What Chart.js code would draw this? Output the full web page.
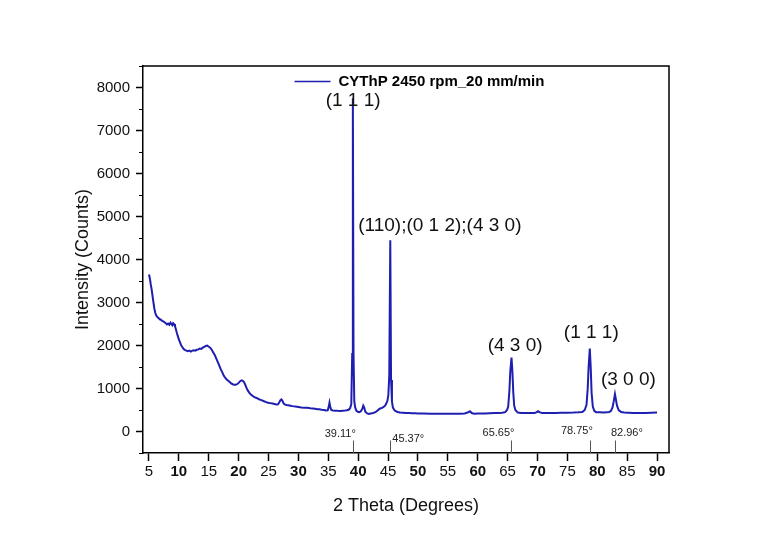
<!DOCTYPE html>
<html>
<head>
<meta charset="utf-8">
<script src="https://cdn.jsdelivr.net/npm/chart.js@4.4.0/dist/chart.umd.min.js"></script>
<style>
  html, body { margin: 0; padding: 0; background: #fff; }
  #wrap { width: 759px; height: 540px; }
</style>
</head>
<body>
<div id="wrap"><canvas id="xrd" width="759" height="540"></canvas></div>
<script>
// 2 theta (degrees) and counts
const twoTheta = [
  5.0, 5.15, 5.3, 5.45, 5.6, 5.75, 5.9, 6.05, 6.2, 6.4,
  6.6, 6.8, 7.0, 7.2, 7.4, 7.6, 7.8, 8.0, 8.2, 8.4,
  8.6, 8.75, 8.9, 9.05, 9.2, 9.35, 9.5, 9.65, 9.8, 10.0,
  10.2, 10.4, 10.6, 10.8, 11.0, 11.25, 11.5, 11.75, 12.0, 12.25,
  12.5, 12.75, 13.0, 13.25, 13.5, 13.75, 14.0, 14.25, 14.5, 14.75,
  15.0, 15.25, 15.5, 15.75, 16.0, 16.25, 16.5, 16.75, 17.0, 17.25,
  17.5, 17.75, 18.0, 18.25, 18.5, 18.75, 19.0, 19.25, 19.5, 19.75,
  20.0, 20.25, 20.5, 20.7, 20.9, 21.1, 21.3, 21.55, 21.8, 22.05,
  22.3, 22.65, 23.0, 23.4, 23.8, 24.15, 24.5, 24.9, 25.3, 25.65,
  26.0, 26.3, 26.6, 26.85, 27.0, 27.15, 27.3, 27.5, 27.7, 28.0,
  28.3, 28.65, 29.0, 29.5, 30.0, 30.5, 31.0, 31.5, 32.0, 32.4,
  32.8, 33.15, 33.5, 33.9, 34.3, 34.6, 34.9, 35.05, 35.2, 35.35,
  35.5, 35.8, 36.2, 36.6, 37.0, 37.4, 37.8, 38.1, 38.4, 38.65,
  38.85, 39.0, 39.11, 39.22, 39.35, 39.5, 39.7, 39.95, 40.2, 40.45,
  40.7, 40.85, 41.0, 41.2, 41.5, 41.8, 42.1, 42.5, 42.8, 43.0,
  43.25, 43.5, 43.75, 44.0, 44.25, 44.5, 44.7, 44.9, 45.05, 45.2,
  45.37, 45.5, 45.65, 45.8, 46.0, 46.2, 46.6, 47.0, 47.5, 48.0,
  48.5, 49.0, 49.5, 50.0, 51.0, 52.0, 53.0, 54.0, 55.0, 56.0,
  57.0, 57.8, 58.3, 58.7, 59.0, 59.4, 60.0, 60.5, 61.2, 62.0,
  62.8, 63.5, 64.1, 64.6, 64.9, 65.1, 65.3, 65.45, 65.65, 65.8,
  65.95, 66.1, 66.3, 66.7, 67.3, 68.0, 68.8, 69.5, 69.8, 70.1,
  70.4, 70.8, 71.4, 72.0, 73.0, 74.0, 75.0, 76.0, 76.8, 77.5,
  77.9, 78.2, 78.4, 78.55, 78.75, 78.9, 79.05, 79.25, 79.5, 79.8,
  80.4, 81.0, 81.6, 82.0, 82.3, 82.55, 82.75, 82.96, 83.1, 83.3,
  83.6, 84.0, 84.5, 85.2, 86.0, 87.0, 88.0, 89.0, 90.0
];
const counts = [
  3650, 3560, 3420, 3300, 3150, 3000, 2860, 2760, 2700, 2660,
  2640, 2610, 2600, 2570, 2560, 2540, 2520, 2490, 2510, 2480,
  2530, 2500, 2470, 2520, 2500, 2450, 2380, 2300, 2230, 2140,
  2070, 2000, 1960, 1920, 1900, 1880, 1870, 1880, 1860, 1880,
  1890, 1880, 1900, 1910, 1930, 1920, 1950, 1970, 1990, 2000,
  1970, 1950, 1900, 1840, 1780, 1700, 1620, 1540, 1450, 1380,
  1300, 1250, 1210, 1180, 1150, 1120, 1100, 1090, 1090, 1100,
  1130, 1170, 1190, 1180, 1150, 1090, 1020, 950, 900, 860,
  830, 800, 780, 750, 730, 710, 690, 670, 660, 650,
  640, 630, 635, 690, 730, 745, 720, 660, 630, 615,
  610, 600, 590, 580, 570, 560, 555, 550, 540, 535,
  530, 520, 515, 505, 500, 490, 495, 560, 670, 560,
  500, 490, 485, 480, 478, 485, 490, 495, 505, 540,
  640, 1800, 7750, 1800, 700, 560, 480, 460, 450, 470,
  530, 600, 560, 460, 420, 410, 420, 430, 445, 460,
  490, 520, 540, 550, 570, 600, 650, 720, 850, 1300,
  4450, 1200, 700, 560, 510, 480, 455, 440, 435, 430,
  428, 425, 425, 420, 418, 415, 412, 410, 410, 410,
  412, 420, 440, 470, 430, 415, 418, 420, 420, 425,
  428, 430, 435, 450, 500, 580, 950, 1400, 1720, 1400,
  900, 600, 500, 440, 432, 430, 430, 432, 445, 470,
  445, 430, 430, 430, 432, 435, 437, 440, 445, 452,
  500, 620, 1000, 1500, 1930, 1500, 900, 580, 480, 450,
  445, 440, 445, 455, 480, 560, 700, 870, 760, 600,
  490, 455, 440, 435, 430, 430, 430, 435, 440
];

const seriesName = "CYThP 2450 rpm_20 mm/min";
const xTicks = [5, 10, 15, 20, 25, 30, 35, 40, 45, 50, 55, 60, 65, 70, 75, 80, 85, 90];
const yTicks = [0, 1000, 2000, 3000, 4000, 5000, 6000, 7000, 8000];
const yMinorTicks = [-500, 500, 1500, 2500, 3500, 4500, 5500, 6500, 7500, 8500];

// reference peak positions marked under the pattern
const refAngles = [39.11, 45.37, 65.65, 78.75, 82.96];
const refLabels = ["39.11°", "45.37°", "65.65°", "78.75°", "82.96°"];

// Miller index labels over the peaks
const peakLabels = ["(1 1 1)", "(110);(0 1 2);(4 3 0)", "(4 3 0)", "(1 1 1)", "(3 0 0)"];

const FONT = "Arial, 'Liberation Sans', sans-serif";
const LINE_BLUE = "#1e1eb0";

// where the text goes, in data units
const refLabelPlace = [
  { x: 39.11, y: -60, align: "right", dx: 3 },
  { x: 45.37, y: -175, align: "left", dx: 2 },
  { x: 65.65, y: -30, align: "right", dx: 3 },
  { x: 78.75, y: 10, align: "right", dx: 3 },
  { x: 82.96, y: -30, align: "left", dx: -4 }
];
const peakLabelPlace = [
  { x: 39.15, y: 7680, align: "center" },
  { x: 40.0, y: 4780, align: "left" },
  { x: 66.25, y: 2000, align: "center" },
  { x: 79.0, y: 2290, align: "center" },
  { x: 85.2, y: 1200, align: "center" }
];

const points = twoTheta.map((t, i) => ({ x: t, y: counts[i] }));

const extras = {
  id: "extras",
  afterDraw(chart) {
    const { ctx, chartArea: a, scales: { x, y } } = chart;
    ctx.save();

    // frame top and right
    ctx.strokeStyle = "#000";
    ctx.lineWidth = 1.5;
    ctx.beginPath();
    ctx.moveTo(a.left, a.top);
    ctx.lineTo(a.right, a.top);
    ctx.lineTo(a.right, a.bottom);
    ctx.stroke();

    // minor y ticks
    ctx.lineWidth = 1;
    ctx.beginPath();
    yMinorTicks.forEach(v => {
      const py = Math.round(y.getPixelForValue(v)) + 0.5;
      ctx.moveTo(a.left - 4, py);
      ctx.lineTo(a.left, py);
    });
    ctx.stroke();

    // reference markers
    ctx.strokeStyle = "#555";
    ctx.lineWidth = 1;
    ctx.beginPath();
    refAngles.forEach(t => {
      const px = Math.round(x.getPixelForValue(t)) + 0.5;
      ctx.moveTo(px, y.getPixelForValue(-500));
      ctx.lineTo(px, y.getPixelForValue(-210));
    });
    ctx.stroke();

    ctx.fillStyle = "#222";
    ctx.font = "11px " + FONT;
    ctx.textBaseline = "middle";
    refLabels.forEach((txt, i) => {
      const p = refLabelPlace[i];
      ctx.textAlign = p.align;
      ctx.fillText(txt, x.getPixelForValue(p.x) + p.dx, y.getPixelForValue(p.y));
    });

    // peak labels
    ctx.fillStyle = "#111";
    ctx.font = "19px " + FONT;
    peakLabels.forEach((txt, i) => {
      const p = peakLabelPlace[i];
      ctx.textAlign = p.align;
      ctx.fillText(txt, x.getPixelForValue(p.x), y.getPixelForValue(p.y));
    });

    // legend
    const ly = 81.5;
    const lx = x.getPixelForValue(29.35);
    ctx.strokeStyle = LINE_BLUE;
    ctx.lineWidth = 1.5;
    ctx.beginPath();
    ctx.moveTo(lx, ly);
    ctx.lineTo(lx + 36, ly);
    ctx.stroke();
    ctx.fillStyle = "#000";
    ctx.font = "bold 15px " + FONT;
    ctx.textAlign = "left";
    ctx.fillText(seriesName, lx + 44, ly);

    ctx.restore();
  }
};

new Chart(document.getElementById("xrd"), {
  type: "line",
  data: {
    datasets: [{
      label: seriesName,
      data: points,
      borderColor: LINE_BLUE,
      borderWidth: 2,
      pointRadius: 0,
      tension: 0,
      fill: false
    }]
  },
  options: {
    responsive: false,
    animation: false,
    layout: { padding: { top: 66, right: 90, left: 0, bottom: 0 } },
    plugins: {
      legend: { display: false },
      tooltip: { enabled: false }
    },
    scales: {
      x: {
        type: "linear",
        min: 4,
        max: 92,
        afterBuildTicks: s => { s.ticks = xTicks.map(v => ({ value: v })); },
        afterFit: s => { s.height = 87; },
        border: { display: true, color: "#000", width: 1.5 },
        grid: { display: true, drawOnChartArea: false, drawTicks: true, tickLength: 8, tickColor: "#000", tickWidth: 1.5 },
        ticks: {
          color: "#111",
          padding: 2,
          maxRotation: 0,
          autoSkip: false,
          font: ctx => ({
            family: FONT,
            size: 15,
            weight: ctx.tick && ctx.tick.value % 10 === 0 ? "bold" : "normal"
          })
        },
        title: {
          display: true,
          text: "2 Theta (Degrees)",
          color: "#111",
          font: { family: FONT, size: 18 },
          padding: { top: 0, bottom: 23 }
        }
      },
      y: {
        type: "linear",
        min: -500,
        max: 8500,
        afterBuildTicks: s => { s.ticks = yTicks.map(v => ({ value: v })); },
        afterFit: s => { s.width = 143; },
        border: { display: true, color: "#000", width: 1.5 },
        grid: { display: true, drawOnChartArea: false, drawTicks: true, tickLength: 7, tickColor: "#000", tickWidth: 1.5 },
        ticks: {
          color: "#111",
          padding: 6,
          font: { family: FONT, size: 15 },
          callback: v => String(v)
        },
        title: {
          display: true,
          text: "Intensity (Counts)",
          color: "#111",
          font: { family: FONT, size: 18 },
          padding: { top: 72, bottom: 0 }
        }
      }
    }
  },
  plugins: [extras]
});
</script>
</body>
</html>
